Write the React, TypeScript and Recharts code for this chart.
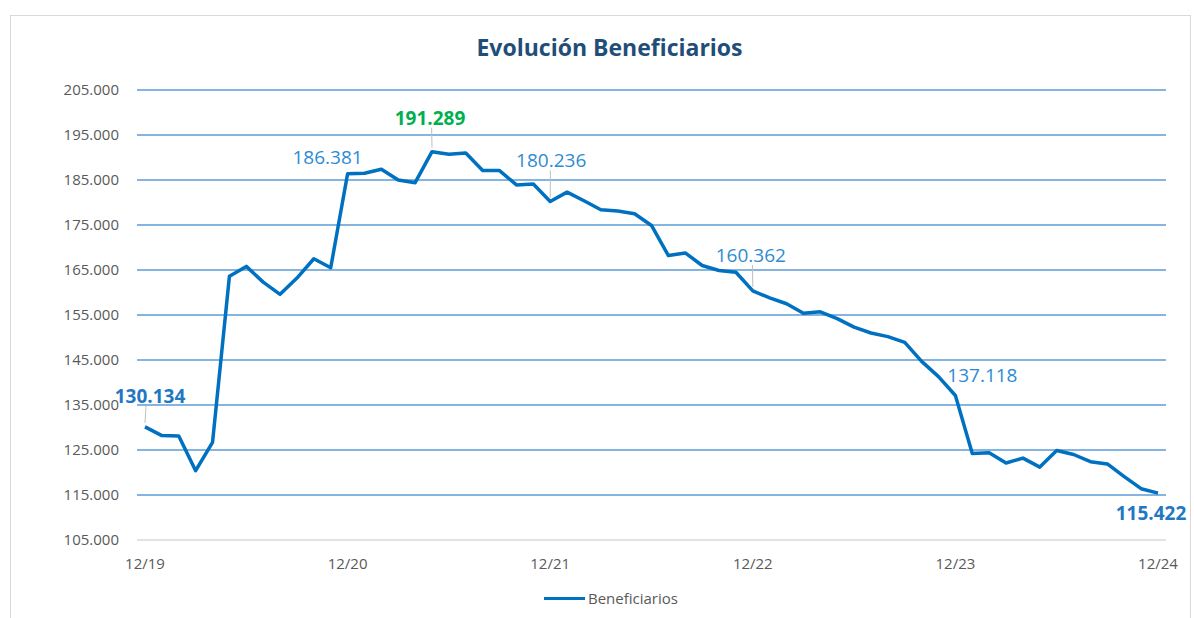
import React from "react";
import { LineChart, Line, XAxis, YAxis, CartesianGrid, LabelList, Legend } from "recharts";

// Monthly series from 12/2019 to 12/2024
const startMonth = 12;
const startYear = 19;
const beneficiarios: number[] = [
  130134, 128200, 128100, 120400, 126700, 163600, 165800, 162300, 159600, 163200, 167500, 165500,
  186381, 186500, 187400, 185000, 184400, 191289, 190700, 191000, 187100, 187100, 183900, 184100,
  180236, 182300, 180400, 178400, 178100, 177500, 174900, 168200, 168800, 166000, 164900, 164500,
  160362, 158800, 157500, 155400, 155700, 154200, 152300, 151000, 150200, 148900, 144700, 141300,
  137118, 124200, 124400, 122100, 123200, 121200, 124900, 124000, 122400, 121900, 119100, 116400,
  115422,
];
const yTicks: number[] = [105000, 115000, 125000, 135000, 145000, 155000, 165000, 175000, 185000, 195000, 205000];
const labeledIndices: number[] = [0, 12, 17, 24, 36, 48, 60];

const months: string[] = beneficiarios.map((_, i) => {
  const m0 = startMonth - 1 + i;
  const m = (m0 % 12) + 1;
  const y = startYear + Math.floor(m0 / 12);
  return `${String(m).padStart(2, "0")}/${y}`;
});

const data = months.map((month, i) => ({ month, value: beneficiarios[i] }));

// Presentation of point annotations (offsets in pixels, style)
const labelStyle: Record<number, { dx: number; dy: number; bold: boolean; color: string; leader: boolean }> = {
  0: { dx: 5, dy: -31, bold: true, color: "#1F78C1", leader: true },
  12: { dx: -20, dy: -17, bold: false, color: "#2E8BD3", leader: false },
  17: { dx: -2, dy: -34, bold: true, color: "#00B050", leader: true },
  24: { dx: 1, dy: -41, bold: false, color: "#2E8BD3", leader: true },
  36: { dx: -2, dy: -36, bold: false, color: "#2E8BD3", leader: true },
  48: { dx: 27, dy: -20, bold: false, color: "#2E8BD3", leader: false },
  60: { dx: -7, dy: 20, bold: true, color: "#1F78C1", leader: false },
};

const fmt = (v: number) => String(Math.round(v)).replace(/\B(?=(\d{3})+(?!\d))/g, ".");

const FONT = "'Open Sans', sans-serif";

const PointLabel = (props: any) => {
  const { x, y, index, value } = props;
  if (!labeledIndices.includes(index)) return null;
  const s = labelStyle[index];
  const lx = x + s.dx;
  const ly = y + s.dy;
  return (
    <g>
      {s.leader && (
        <line x1={x + (lx - x) * 0.2} y1={ly + 10} x2={x} y2={y - 4} stroke="#BFBFBF" strokeWidth={1} />
      )}
      <text
        x={lx}
        y={ly}
        textAnchor="middle"
        dominantBaseline="central"
        fontFamily={FONT}
        fontSize={19}
        fontWeight={s.bold ? 700 : 400}
        fill={s.color}
      >
        {fmt(value)}
      </text>
    </g>
  );
};

const LegendContent = () => (
  <div style={{ display: "flex", alignItems: "center", height: 30, fontFamily: FONT }}>
    <div style={{ width: 41, height: 3, background: "#0070C0", marginRight: 3 }} />
    <span style={{ fontSize: 15, color: "#595959" }}>Beneficiarios</span>
  </div>
);

export default function App() {
  return (
    <div style={{ position: "absolute", left: 0, top: 0, width: 1194, height: 618, background: "#fff" }}>
      <div
        style={{
          position: "absolute",
          left: 10,
          top: 15,
          width: 1179,
          height: 602,
          borderLeft: "1px solid #D9D9D9",
          borderTop: "1px solid #D9D9D9",
          borderRight: "1px solid #D9D9D9",
        }}
      />
      <div
        style={{
          position: "absolute",
          left: 0,
          top: 32,
          width: 1219,
          textAlign: "center",
          fontFamily: FONT,
          fontWeight: 700,
          fontSize: 23,
          lineHeight: "30px",
          color: "#1F4E79",
        }}
      >
        Evolución Beneficiarios
      </div>
      <div style={{ position: "absolute", left: 0, top: 0 }}>
        <LineChart width={1194} height={618} data={data} margin={{ top: 90, right: 28, left: 0, bottom: 5 }}>
          <CartesianGrid
            vertical={false}
            stroke="#5B9BD5"
            strokeWidth={1.4}
            horizontalValues={yTicks.filter((t) => t !== 105000)}
          />
          <XAxis
            dataKey="month"
            interval={11}
            tickLine={false}
            axisLine={{ stroke: "#D9D9D9", strokeWidth: 1.5 }}
            padding={{ left: 8, right: 8 }}
            height={43}
            tickSize={0}
            tickMargin={18}
            tick={{ fill: "#595959", fontSize: 15, fontFamily: FONT }}
          />
          <YAxis
            type="number"
            domain={[105000, 205000]}
            ticks={yTicks}
            width={137}
            axisLine={false}
            tickLine={false}
            tickSize={0}
            tickMargin={18}
            tickFormatter={fmt}
            tick={{ fill: "#595959", fontSize: 15, fontFamily: FONT }}
          />
          <Legend
            verticalAlign="bottom"
            align="left"
            content={<LegendContent />}
            wrapperStyle={{ left: 544, width: 200, height: 30 }}
          />
          <Line
            type="linear"
            dataKey="value"
            name="Beneficiarios"
            stroke="#0070C0"
            strokeWidth={3.5}
            strokeLinejoin="round"
            dot={false}
            activeDot={false}
            isAnimationActive={false}
          >
            <LabelList dataKey="value" content={<PointLabel />} />
          </Line>
        </LineChart>
      </div>
    </div>
  );
}
